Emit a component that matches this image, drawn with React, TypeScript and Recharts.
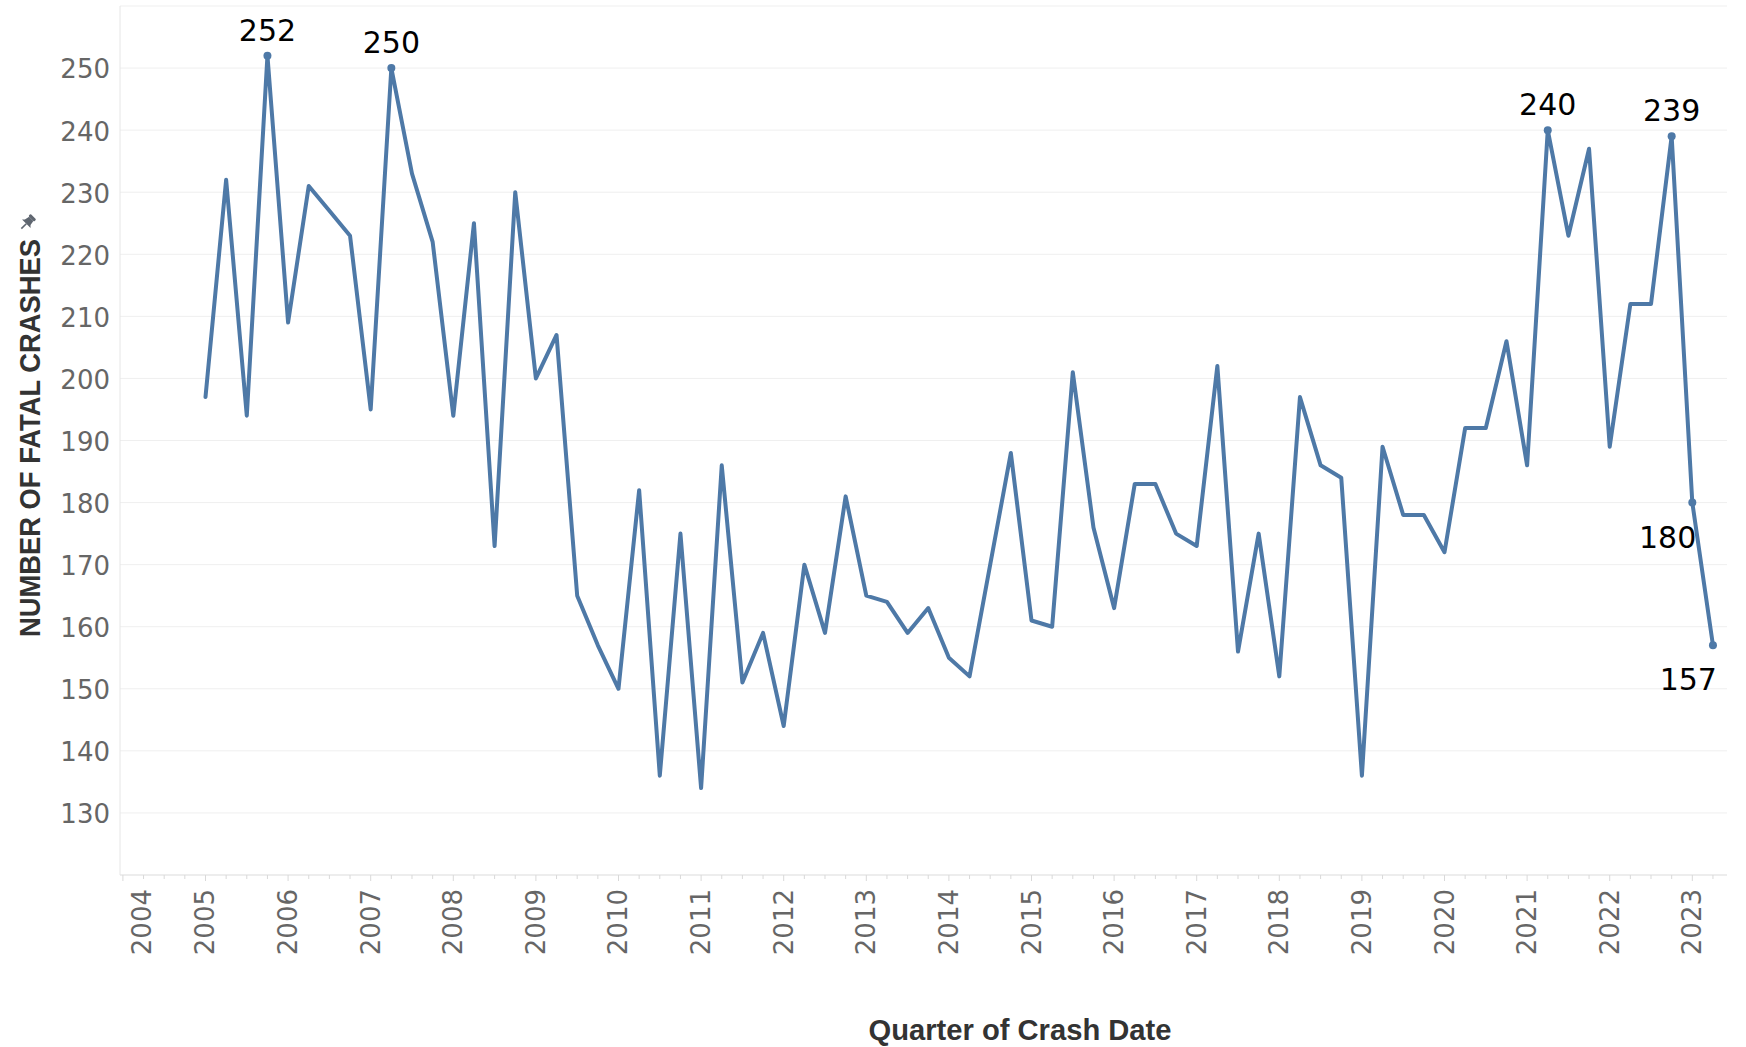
import React from "react";
import { LineChart, Line, XAxis, YAxis, CartesianGrid } from "recharts";

// quarterly counts, 2005 Q1 .. 2023 Q2
const years = [
  2005, 2006, 2007, 2008, 2009, 2010, 2011, 2012, 2013, 2014,
  2015, 2016, 2017, 2018, 2019, 2020, 2021, 2022, 2023,
];
const quarters = ["Q1", "Q2", "Q3", "Q4"];
const fatalCrashes = [
  197, 232, 194, 252,
  209, 231, 227, 223,
  195, 250, 233, 222,
  194, 225, 173, 230,
  200, 207, 165, 157,
  150, 182, 136, 175,
  134, 186, 151, 159,
  144, 170, 159, 181,
  165, 164, 159, 163,
  155, 152, 170, 188,
  161, 160, 201, 176,
  163, 183, 183, 175,
  173, 202, 156, 175,
  152, 197, 186, 184,
  136, 189, 178, 178,
  172, 192, 192, 206,
  186, 240, 223, 237,
  189, 212, 212, 239,
  180, 157,
];
const highlights: Record<string, "above" | "below"> = {
  "2005 Q4": "above",
  "2007 Q2": "above",
  "2021 Q2": "above",
  "2022 Q4": "above",
  "2023 Q1": "below",
  "2023 Q2": "below",
};
const axisYears = [
  2004, 2005, 2006, 2007, 2008, 2009, 2010, 2011, 2012, 2013,
  2014, 2015, 2016, 2017, 2018, 2019, 2020, 2021, 2022, 2023,
];
const yTicks = [120, 130, 140, 150, 160, 170, 180, 190, 200, 210, 220, 230, 240, 250, 260];

const data: { t: number; quarter: string; crashes: number }[] = [];
years.forEach((yr) => {
  quarters.forEach((q, qi) => {
    const i = data.length;
    if (i < fatalCrashes.length) {
      data.push({ t: yr + qi / 4, quarter: `${yr} ${q}`, crashes: fatalCrashes[i] });
    }
  });
});

const xTicks = axisYears
  .flatMap((yr) => [yr, yr + 0.25, yr + 0.5, yr + 0.75])
  .filter((t) => t <= 2023.25);

const LINE = "#4e79a7";
const TICK_FONT = "'DejaVu Sans', sans-serif";
const TITLE_FONT = "'Liberation Sans', Arial, sans-serif";

const XTick = (props: any) => {
  const { x, y, payload } = props;
  const isYear = Number.isInteger(payload.value);
  const lx = Math.max(x, 142) + 9;
  return (
    <g>
      <line x1={x} x2={x} y1={y} y2={y + (isYear ? 6 : 4)} stroke="#d9d9d9" />
      {isYear && (
        <text
          x={lx}
          y={y + 14}
          transform={`rotate(-90 ${lx} ${y + 14})`}
          textAnchor="end"
          fontFamily={TICK_FONT}
          fontSize={26}
          fill="#666"
        >
          {payload.value}
        </text>
      )}
    </g>
  );
};

const YTick = (props: any) => {
  const { x, y, payload } = props;
  if (payload.value < 130 || payload.value > 250) return <g />;
  return (
    <text x={x} y={y} dy="0.4em" textAnchor="end" fontFamily={TICK_FONT} fontSize={26} fill="#666">
      {payload.value}
    </text>
  );
};

const Marker = (props: any) => {
  const { cx, cy, payload, index } = props;
  const place = highlights[payload.quarter];
  if (!place) return <g key={`d${index}`} />;
  return (
    <g key={`d${index}`}>
      <circle cx={cx} cy={cy} r={4} fill={LINE} />
      {place === "above" ? (
        <text x={cx} y={cy - 15} textAnchor="middle" fontFamily={TICK_FONT} fontSize={30} fill="#000">
          {payload.crashes}
        </text>
      ) : (
        <text x={cx + 4} y={cy + 45} textAnchor="end" fontFamily={TICK_FONT} fontSize={30} fill="#000">
          {payload.crashes}
        </text>
      )}
    </g>
  );
};

export default function App() {
  return (
    <div style={{ position: "absolute", left: 0, top: 0, width: 1746, height: 1047, background: "#fff" }}>
      <LineChart width={1746} height={1047} data={data} margin={{ top: 6, right: 19, bottom: 0, left: 0 }}>
        <CartesianGrid vertical={false} stroke="#efefef" />
        <XAxis
          dataKey="t"
          type="number"
          domain={[2003.965, 2023.42]}
          ticks={xTicks}
          interval={0}
          height={172}
          tickSize={0}
          tickMargin={0}
          tick={<XTick />}
          axisLine={{ stroke: "#e3e3e3" }}
          tickLine={false}
          allowDecimals
        />
        <YAxis
          type="number"
          domain={[120, 260]}
          ticks={yTicks}
          interval={0}
          width={120}
          tickSize={0}
          tickMargin={10}
          tick={<YTick />}
          axisLine={{ stroke: "#e6e6e6" }}
          tickLine={false}
        />
        <Line
          type="linear"
          dataKey="crashes"
          stroke={LINE}
          strokeWidth={4}
          strokeLinejoin="round"
          strokeLinecap="round"
          dot={Marker}
          activeDot={false}
          isAnimationActive={false}
        />
      </LineChart>
      <svg
        width={1746}
        height={1047}
        style={{ position: "absolute", left: 0, top: 0, pointerEvents: "none" }}
      >
        <text
          x={40}
          y={438}
          transform="rotate(-90 40 438)"
          textAnchor="middle"
          fontFamily={TITLE_FONT}
          fontWeight="bold"
          fontSize={29}
          textLength={398}
          lengthAdjust="spacingAndGlyphs"
          fill="#333"
        >
          NUMBER OF FATAL CRASHES
        </text>
        <g transform="translate(27 223) rotate(45)" fill="#5f6670">
          <rect x={-4} y={-9} width={8} height={3} rx={1} />
          <path d="M-3 -6 L3 -6 L4 -1 L6 1 L-6 1 L-4 -1 Z" />
          <rect x={-0.8} y={1} width={1.6} height={7} />
        </g>
        <text
          x={1020}
          y={1040}
          textAnchor="middle"
          fontFamily={TITLE_FONT}
          fontWeight="bold"
          fontSize={29}
          textLength={303}
          lengthAdjust="spacingAndGlyphs"
          fill="#333"
        >
          Quarter of Crash Date
        </text>
      </svg>
    </div>
  );
}
